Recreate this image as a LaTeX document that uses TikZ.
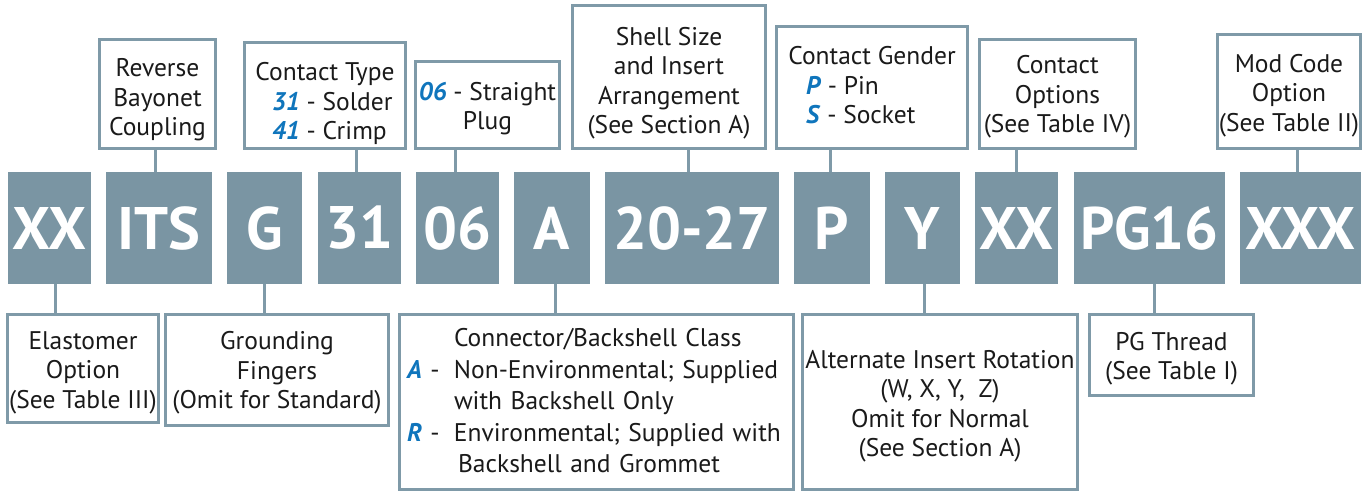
\documentclass[tikz,border=0pt]{standalone}
\usepackage{fontspec}
\setmainfont{PT Sans}
\definecolor{codegray}{HTML}{7A95A3}
\definecolor{edgegray}{HTML}{7F9AA8}
\definecolor{codeblue}{HTML}{0F75BC}
\definecolor{txt}{HTML}{1A1A1A}
\newcommand{\bl}[1]{\textcolor{codeblue}{\textbf{\textit{#1}}}}
\begin{document}
\begin{tikzpicture}[x=1pt,y=-1pt,
  code/.style={fill=codegray, draw=none, text=white, font=\bfseries\fontsize{60}{60}\selectfont, inner sep=0pt, minimum height=112pt},
  lbl/.style={draw=edgegray, line width=3pt, fill=white, inner sep=0pt},
  ltxt/.style={inner sep=0pt, align=center, text=txt, font=\fontsize{25.5}{29.5}\selectfont},
  conn/.style={draw=edgegray, line width=3pt}]
\useasboundingbox (0,0) rectangle (1369,493);
% code boxes
\node[code, minimum width=83pt]  (xxa)  at (49.5,228)  {XX};
\node[code, minimum width=106pt] (its)  at (159,228)   {ITS};
\node[code, minimum width=75pt]  (g)    at (264.5,228) {G};
\node[code, minimum width=83pt]  (c31)  at (359.5,228) {31};
\node[code, minimum width=83pt]  (c06)  at (457.5,228) {06};
\node[code, minimum width=76pt]  (ca)   at (552,228)   {A};
\node[code, minimum width=174pt] (c2027) at (692,228)  {20-27};
\node[code, minimum width=76pt]  (cp)   at (832,228)   {P};
\node[code, minimum width=75pt]  (cy)   at (922.5,228) {Y};
\node[code, minimum width=83pt]  (xxb)  at (1016.5,228) {XX};
\node[code, minimum width=151pt] (pg16) at (1149.5,228) {PG16};
\node[code, minimum width=121pt] (xxx)  at (1300.5,228) {XXX};
% top label boxes and their texts
\node[lbl, minimum width=116pt, minimum height=109pt] (rev) at (157.5,94) {};
\node[ltxt] (revt) at (157.5,100) {Reverse\\Bayonet\\Coupling};
\node[lbl, minimum width=161pt, minimum height=106pt] (ctype) at (325,95.5) {};
\node[ltxt] (ctypet) at (325,103.5) {Contact Type\\\makebox[106pt][l]{\bl{31} - Solder}\\\makebox[106pt][l]{\bl{41} - Crimp}};
\node[lbl, minimum width=144pt, minimum height=87pt] (plug) at (487.5,105) {};
\node[ltxt] (plugt) at (487.5,108.5) {\bl{06} - Straight\\Plug};
\node[lbl, minimum width=193pt, minimum height=143pt] (shell) at (669,77) {};
\node[ltxt] (shellt) at (669,83) {Shell Size\\and Insert\\Arrangement\\(See Section A)};
\node[lbl, minimum width=191pt, minimum height=122pt] (gender) at (872,87.5) {};
\node[ltxt] (gendert) at (872,85.5) {Contact Gender\\\makebox[132pt][l]{\bl{P} - Pin}\\\makebox[132pt][l]{\bl{S} - Socket}};
\node[lbl, minimum width=156pt, minimum height=109pt] (copt) at (1057.5,94) {};
\node[ltxt] (coptt) at (1057.5,97) {Contact\\Options\\(See Table IV)};
\node[lbl, minimum width=143pt, minimum height=114pt] (mod) at (1289,91.5) {};
\node[ltxt] (modt) at (1289,95.5) {Mod Code\\Option\\(See Table II)};
% bottom label boxes and their texts
\node[lbl, minimum width=151pt, minimum height=108pt] (elast) at (83,368.5) {};
\node[ltxt] (elastt) at (83,372.5) {Elastomer\\Option\\(See Table III)};
\node[lbl, minimum width=223pt, minimum height=111pt] (ground) at (277,370) {};
\node[ltxt] (groundt) at (277,373) {Grounding\\Fingers\\(Omit for Standard)};
\node[lbl, minimum width=394pt, minimum height=175pt] (cls) at (596.5,402) {};
\node[ltxt, align=left, text width=380pt, font=\fontsize{25.5}{31.5}\selectfont] (clst) at (597,401)
  {\makebox[47pt][l]{}Connector/Backshell Class\\
   \makebox[47pt][l]{\bl{A} -}Non-Environmental; Supplied\\
   \makebox[47pt][l]{}with Backshell Only\\
   \makebox[47pt][l]{\bl{R} -}Environmental; Supplied with\\
   \makebox[51pt][l]{}Backshell and Grommet};
\node[lbl, minimum width=275pt, minimum height=175pt] (alt) at (940,402) {};
\node[ltxt] (altt) at (940,406) {Alternate Insert Rotation\\(W, X, Y,\ \ Z)\\Omit for Normal\\(See Section A)};
\node[lbl, minimum width=164pt, minimum height=81pt] (pgt) at (1171.5,355) {};
\node[ltxt] (pgtt) at (1171.5,358.5) {PG Thread\\(See Table I)};
% connectors
\draw[conn] ([xshift=-4pt]its.north) -- ([xshift=-4pt]its.north |- rev.south);
\draw[conn] ([xshift=-3.5pt]c31.north) -- ([xshift=-3.5pt]c31.north |- ctype.south);
\draw[conn] ([xshift=-2.5pt]c06.north) -- ([xshift=-2.5pt]c06.north |- plug.south);
\draw[conn] ([xshift=-4pt]c2027.north) -- ([xshift=-4pt]c2027.north |- shell.south);
\draw[conn] ([xshift=-2pt]cp.north) -- ([xshift=-2pt]cp.north |- gender.south);
\draw[conn] (xxb.north) -- (xxb.north |- copt.south);
\draw[conn] ([xshift=-3.5pt]xxx.north) -- ([xshift=-3.5pt]xxx.north |- mod.south);
\draw[conn] ([xshift=5.5pt]xxa.south) -- ([xshift=5.5pt]xxa.south |- elast.north);
\draw[conn] (g.south) -- (g.south |- ground.north);
\draw[conn] ([xshift=3pt]ca.south) -- ([xshift=3pt]ca.south |- cls.north);
\draw[conn] ([xshift=1.5pt]cy.south) -- ([xshift=1.5pt]cy.south |- alt.north);
\draw[conn] ([xshift=4.5pt]pg16.south) -- ([xshift=4.5pt]pg16.south |- pgt.north);
\end{tikzpicture}
\end{document}
